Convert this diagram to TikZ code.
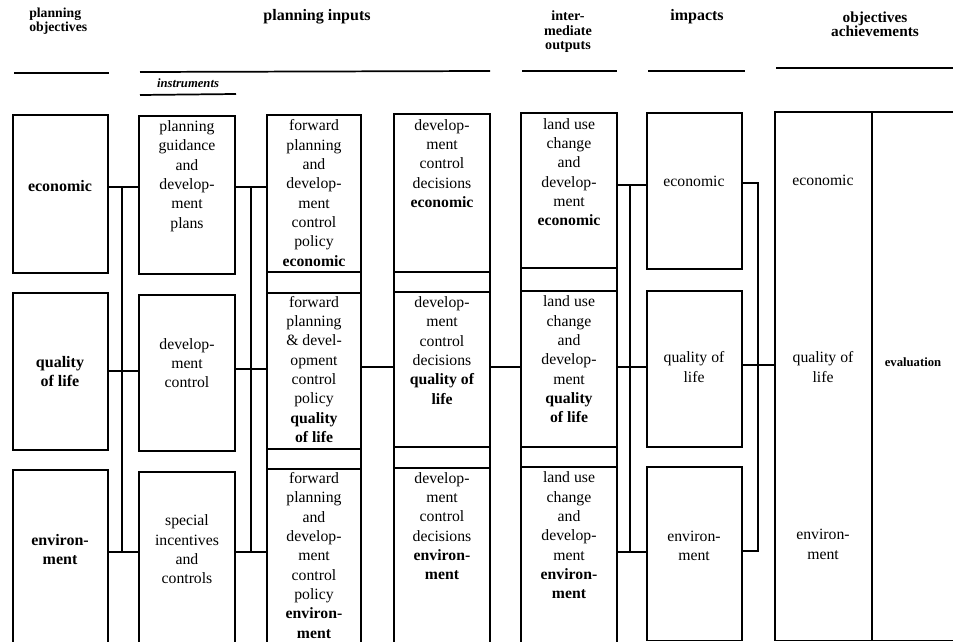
\documentclass[tikz,border=0pt]{standalone}
\usepackage{fontspec}
\setmainfont{Liberation Serif}
\usetikzlibrary{fit}
\begin{document}
\begin{tikzpicture}[x=0.75pt,y=-0.75pt,
  box/.style={draw, line width=1.1pt, inner sep=0pt},
  wire/.style={line width=1.1pt},
  rule/.style={line width=1.3pt},
  txt/.style={align=center, font=\fontsize{11.8}{14.5}\selectfont, inner sep=0pt},
  btxt/.style={txt, font=\fontsize{12}{14.5}\selectfont\bfseries},
  head/.style={align=center, inner sep=0pt, font=\fontsize{12}{12}\selectfont\bfseries}]
\useasboundingbox (0,0) rectangle (953,642);
\clip (0,0) rectangle (953,642);

% headers
\node[head, align=left, anchor=west, font=\fontsize{10.3}{10.5}\selectfont\bfseries] (h1) at (29,21) {planning\\objectives};
\node[head] (h2) at (317,17) {planning inputs};
\node[head, font=\fontsize{9.5}{10}\selectfont\bfseries\itshape] (h2b) at (188,83) {instruments};
\node[head, font=\fontsize{10.6}{10.9}\selectfont\bfseries] (h3) at (568,32) {inter-\\mediate\\outputs};
\node[head] (h4) at (697,17) {impacts};
\node[head, font=\fontsize{11.5}{10.5}\selectfont\bfseries] (h5) at (875,24) {objectives\\achievements};
\draw[rule] (14,73) -- (109,73);
\draw[rule] (140,72) -- (490,71);
\draw[rule] (140,95) -- (236,94);
\draw[rule] (522,71) -- (617,71);
\draw[rule] (648,71) -- (745,71);
\draw[rule] (776,68) -- (953,68);

% column 1: planning objectives
\node[box, fit={(13,115) (108,273)}] (o1) {};
\node[box, fit={(13,293) (108,450)}] (o2) {};
\node[box, fit={(13,470) (108,670)}] (o3) {};
\node[btxt] (to1) at (60,186) {economic};
\node[btxt] (to2) at (60,371.5) {quality\\of life};
\node[btxt] (to3) at (60,549.5) {environ-\\ment};

% column 2: instruments
\node[box, fit={(139,116) (235,274)}] (i1) {};
\node[box, fit={(139,295) (235,451)}] (i2) {};
\node[box, fit={(139,472) (235,670)}] (i3) {};
\node[txt] (ti1) at (187,176) {planning\\guidance\\and\\develop-\\ment\\plans};
\node[txt] (ti2) at (187,363) {develop-\\ment\\control};
\node[txt] (ti3) at (187,549.5) {special\\incentives\\and\\controls};

% column 3: forward planning
\node[box, fit={(267,115) (361,272)}] (f1) {};
\node[box, fit={(267,272) (361,293)}] (fs1) {};
\node[box, fit={(267,293) (361,449)}] (f2) {};
\node[box, fit={(267,449) (361,469)}] (fs2) {};
\node[box, fit={(267,469) (361,670)}] (f3) {};
\node[txt] (tf1) at (314,193) {forward\\planning\\and\\develop-\\ment\\control\\policy\\\textbf{economic}};
\node[txt] (tf2) at (314,369.5) {forward\\planning\\\& devel-\\opment\\control\\policy\\\textbf{quality}\\\textbf{of life}};
\node[txt] (tf3) at (314,555.5) {forward\\planning\\and\\develop-\\ment\\control\\policy\\\textbf{environ-}\\\textbf{ment}};

% column 4: development control decisions
\node[box, fit={(394,114) (490,272)}] (d1) {};
\node[box, fit={(394,272) (490,292)}] (ds1) {};
\node[box, fit={(394,292) (490,447)}] (d2) {};
\node[box, fit={(394,447) (490,468)}] (ds2) {};
\node[box, fit={(394,468) (490,670)}] (d3) {};
\node[txt] (td1) at (442,163.5) {develop-\\ment\\control\\decisions\\\textbf{economic}};
\node[txt] (td2) at (442,350.5) {develop-\\ment\\control\\decisions\\\textbf{quality of}\\\textbf{life}};
\node[txt] (td3) at (442,526) {develop-\\ment\\control\\decisions\\\textbf{environ-}\\\textbf{ment}};

% column 5: intermediate outputs
\node[box, fit={(521,113) (617,268)}] (l1) {};
\node[box, fit={(521,268) (617,291)}] (ls1) {};
\node[box, fit={(521,291) (617,447)}] (l2) {};
\node[box, fit={(521,447) (617,467)}] (ls2) {};
\node[box, fit={(521,467) (617,670)}] (l3) {};
\node[txt] (tl1) at (569,172) {land use\\change\\and\\develop-\\ment\\\textbf{economic}};
\node[txt] (tl2) at (569,359.5) {land use\\change\\and\\develop-\\ment\\\textbf{quality}\\\textbf{of life}};
\node[txt] (tl3) at (569,535.5) {land use\\change\\and\\develop-\\ment\\\textbf{environ-}\\\textbf{ment}};

% column 6: impacts
\node[box, fit={(647,113) (742,269)}] (m1) {};
\node[box, fit={(647,291) (742,447)}] (m2) {};
\node[box, fit={(647,467) (742,640.5)}] (m3) {};
\node[txt] (tm1) at (694,181) {economic};
\node[txt] (tm2) at (694,367) {quality of\\life};
\node[txt] (tm3) at (694,546) {environ-\\ment};

% column 7: objectives achievements
\node[box, fit={(775,112) (872,640.5)}] (a1) {};
\node[box, fit={(872,112) (970,640.5)}] (ev) {};
\node[txt] (ta1) at (823,180) {economic};
\node[txt] (ta2) at (823,367) {quality of\\life};
\node[txt] (ta3) at (823,544.5) {environ-\\ment};
\node[txt, font=\fontsize{9.5}{10}\selectfont\bfseries] (tev) at (913,362) {evaluation};

% connectors column 1 -> column 2
\coordinate (b1t) at (122,187);
\coordinate (b1m) at (122,371);
\coordinate (b1b) at (122,552);
\draw[wire] (b1t) -- (b1b);
\draw[wire] (o1.east |- b1t) -- (i1.west |- b1t);
\draw[wire] (o2.east |- b1m) -- (i2.west |- b1m);
\draw[wire] (o3.east |- b1b) -- (i3.west |- b1b);

% column 2 -> column 3
\coordinate (b2t) at (251,187);
\coordinate (b2m) at (251,369);
\coordinate (b2b) at (251,552);
\draw[wire] (b2t) -- (b2b);
\draw[wire] (i1.east |- b2t) -- (f1.west |- b2t);
\draw[wire] (i2.east |- b2m) -- (f2.west |- b2m);
\draw[wire] (i3.east |- b2b) -- (f3.west |- b2b);

% column 3 -> 4 -> 5
\coordinate (q3) at (0,367);
\draw[wire] (f2.east |- q3) -- (d2.west |- q3);
\draw[wire] (d2.east |- q3) -- (l2.west |- q3);

% column 5 -> column 6
\coordinate (b5t) at (630,185);
\coordinate (b5m) at (630,367);
\coordinate (b5b) at (630,552);
\draw[wire] (b5t) -- (b5b);
\draw[wire] (l1.east |- b5t) -- (m1.west |- b5t);
\draw[wire] (l2.east |- b5m) -- (m2.west |- b5m);
\draw[wire] (l3.east |- b5b) -- (m3.west |- b5b);

% column 6 -> column 7
\coordinate (b6t) at (758,183);
\coordinate (b6m) at (758,365);
\coordinate (b6b) at (758,551);
\draw[wire] (m1.east |- b6t) -- (b6t) -- (b6b) -- (m3.east |- b6b);
\draw[wire] (m2.east |- b6m) -- (a1.west |- b6m);
\end{tikzpicture}
\end{document}
